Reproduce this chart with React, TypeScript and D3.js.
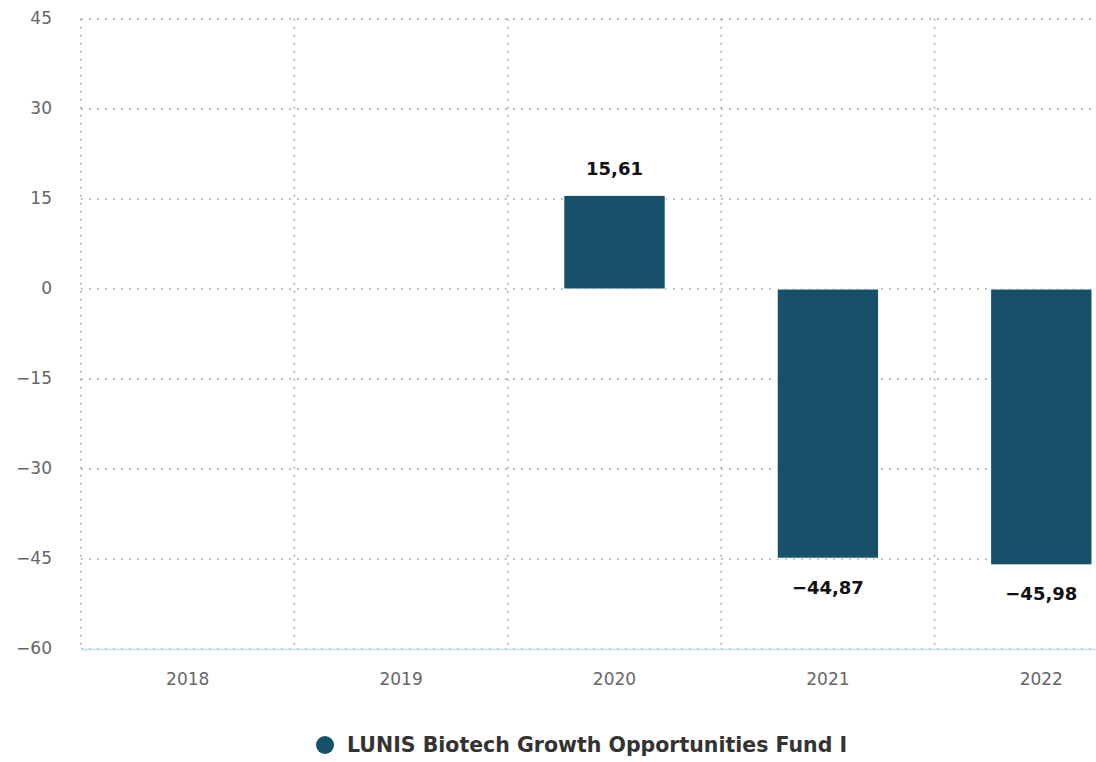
import React from "react";
import * as d3 from "d3";

const categories = ["2018", "2019", "2020", "2021", "2022"];
const values: (number | null)[] = [null, null, 15.61, -44.87, -45.98];
const yTicks = [45, 30, 15, 0, -15, -30, -45, -60];
const seriesName = "LUNIS Biotech Growth Opportunities Fund I";

const W = 1096;
const H = 762;
const FONT = "'DejaVu Sans', Verdana, sans-serif";

export default function App() {
  const x = d3.scaleBand<string>().domain(categories).range([81, 1148]).paddingInner(0).paddingOuter(0);
  const y = d3.scaleLinear().domain([-60, 45]).range([649, 19]);
  const barW = x.bandwidth() * 0.475;
  const fmt = (v: number) => d3.format(".2f")(v).replace(".", ",").replace("-", "\u2212");
  const gridColor = "#999";
  return (
    <svg width={W} height={H} style={{ position: "absolute", left: 0, top: 0, fontFamily: FONT }}>
      <rect x={0} y={0} width={W} height={H} fill="#fff" />
      {yTicks.map((t) => (
        <g key={t}>
          <line x1={81} x2={1096} y1={y(t)} y2={y(t)} stroke={gridColor} strokeWidth={1.6} strokeDasharray="1.6 6.4" />
          <text x={52} y={y(t) - 1} dy="0.35em" textAnchor="end" fontSize={17} fill="#666">
            {t < 0 ? "\u2212" + Math.abs(t) : t}
          </text>
        </g>
      ))}
      {categories.map((c) => (
        <line key={c} x1={x(c)!} x2={x(c)!} y1={y(45)} y2={y(-60)} stroke={gridColor} strokeWidth={1.6} strokeDasharray="1.6 6.4" />
      ))}
      <line x1={81} x2={1096} y1={y(-60) + 0.5} y2={y(-60) + 0.5} stroke="#ccd6eb" strokeWidth={1.5} />
      {categories.map((c) => (
        <text key={c} x={x(c)! + x.bandwidth() / 2} y={679} dy="0.35em" textAnchor="middle" fontSize={17} fill="#666">
          {c}
        </text>
      ))}
      {categories.map((c, i) => {
        const v = values[i];
        if (v == null) return null;
        const cx = x(c)! + x.bandwidth() / 2;
        const y0 = y(0);
        const y1 = y(v);
        const top = Math.min(y0, y1);
        const h = Math.abs(y1 - y0);
        return (
          <g key={c}>
            <rect x={cx - barW / 2} y={top} width={barW} height={h} fill="#17506b" stroke="#fff" strokeWidth={1} />
            <text
              x={cx}
              y={v >= 0 ? y1 - 27 : y1 + 29}
              dy="0.35em"
              textAnchor="middle"
              fontSize={18}
              fontWeight="bold"
              fill="#111"
            >
              {fmt(v)}
            </text>
          </g>
        );
      })}
      <circle cx={325} cy={745} r={9} fill="#17506b" />
      <text x={347} y={745} dy="0.35em" fontSize={20.5} fontWeight="bold" fill="#333">
        {seriesName}
      </text>
    </svg>
  );
}
